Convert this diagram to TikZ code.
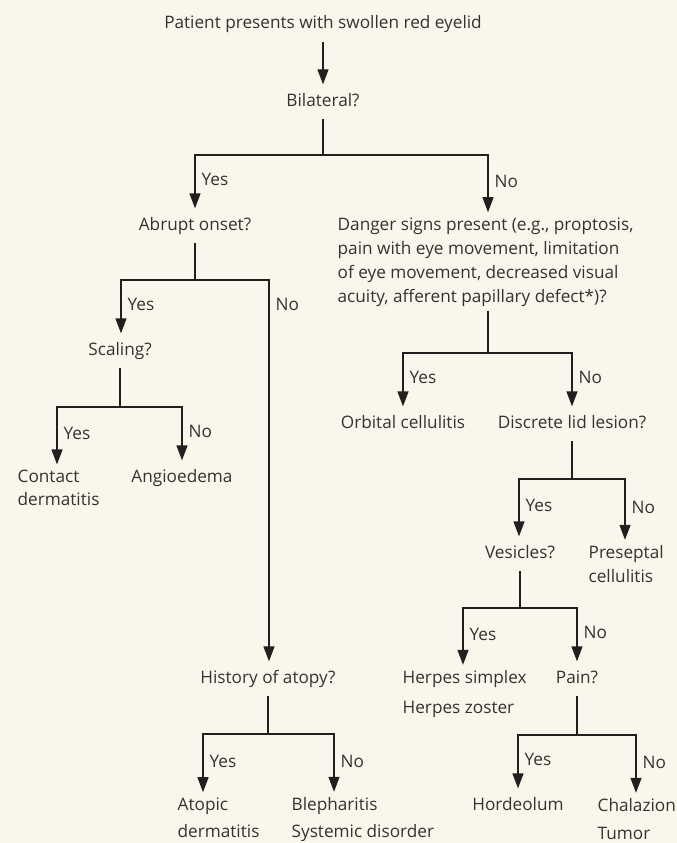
\documentclass[tikz,border=0pt]{standalone}
\usepackage{fontspec}
\setmainfont{Open Sans}
\usetikzlibrary{arrows.meta}
\definecolor{cream}{HTML}{FAF6EB}
\definecolor{ink}{HTML}{231F20}
\definecolor{txt}{HTML}{333333}

\begin{document}
\begin{tikzpicture}[x=1pt,y=-1pt,line width=1.3pt,draw=ink,
    >={Triangle[length=15pt,width=11pt]},
    base/.style={text=txt,font=\fontsize{17.2}{24}\selectfont,inner xsep=1pt,inner ysep=8.5pt},
    q/.style={base,anchor=base,text height=12.5pt,text depth=4pt},
    ml/.style={base,anchor=base west,align=left,inner ysep=4.5pt},
    yn/.style={base,midway,anchor=west,inner xsep=6pt,inner ysep=0pt,text height=12.5pt,text depth=4pt}]
    % background and size
    \fill [cream] (0, 0) rectangle (677, 843);
    \useasboundingbox (0, 0) rectangle (677, 843);
    % questions and outcomes (multi-line ones sit on their last line)
    \node [q] (patient) at (323, 29) {Patient presents with swollen red eyelid};%
    \node [q] (bilat) at (323, 106) {Bilateral?};%
    \node [q] (abrupt) at (195, 230) {Abrupt onset?};%
    \node [ml] (danger) at (336, 302) {Danger signs present (e.g., proptosis,\\pain with eye movement, limitation\\of eye movement, decreased visual\\acuity, afferent papillary defect*)?};%
    \node [q] (scaling) at (120, 355) {Scaling?};%
    \node [q] (orbital) at (403, 428) {Orbital cellulitis};%
    \node [q] (discrete) at (572, 428) {Discrete lid lesion?};%
    \node [ml] (contact) at (16, 505) {Contact\\[-1pt]dermatitis};%
    \node [q] (angio) at (182, 482) {Angioedema};%
    \node [q] (vesicles) at (520, 558) {Vesicles?};%
    \node [ml] (presep) at (587, 582) {Preseptal\\cellulitis};%
    \node [q] (history) at (268, 683) {History of atopy?};%
    \node [ml] (herpes) at (401, 713) {Herpes simplex\\[6pt]Herpes zoster};%
    \node [q] (pain) at (577, 683) {Pain?};%
    \node [ml] (atopic) at (176, 837) {Atopic\\[3pt]dermatitis};%
    \node [ml] (bleph) at (290, 837) {Blepharitis\\[3pt]Systemic disorder};%
    \node [q] (hord) at (518, 810) {Hordeolum};%
    \node [ml] (chal) at (596, 839) {Chalazion\\[4pt]Tumor};%
    % split points
    \coordinate (s1) at (323, 155); \coordinate (s1l) at (195, 155); \coordinate (s1r) at (488, 155);
    \coordinate (s2) at (195, 280); \coordinate (s2l) at (121, 280); \coordinate (s2r) at (269, 280);
    \coordinate (s3) at (488, 353); \coordinate (s3l) at (403, 353); \coordinate (s3r) at (572, 353);
    \coordinate (s4) at (120, 407); \coordinate (s4l) at (57, 407); \coordinate (s4r) at (182, 407);
    \coordinate (s5) at (572, 479); \coordinate (s5l) at (519, 479); \coordinate (s5r) at (625, 479);
    \coordinate (s6) at (520, 608); \coordinate (s6l) at (463, 608); \coordinate (s6r) at (577, 608);
    \coordinate (s7) at (268, 734); \coordinate (s7l) at (203, 734); \coordinate (s7r) at (334, 734);
    \coordinate (s8) at (577, 735); \coordinate (s8l) at (518, 735); \coordinate (s8r) at (636, 735);
    % connectors
    \draw [->] (patient) to (bilat);
    \draw (bilat) to (s1);
    \draw [<->] (s1l |- abrupt.north) -- node [yn] {Yes} (s1l) -- (s1r) -- node [yn] {No} (s1r |- danger.north);
    \draw (abrupt) to (s2);
    \draw [<->] (s2l |- scaling.north) -- node [yn] {Yes} (s2l) -- (s2r) -- node [yn, pos=0.07] {No} (s2r |- history.north);
    \draw (s3 |- danger.south) to (s3);
    \draw [<->] (s3l |- orbital.north) -- node [yn] {Yes} (s3l) -- (s3r) -- node [yn] {No} (s3r |- discrete.north);
    \draw (scaling) to (s4);
    \draw [<->] (s4l |- contact.north) -- node [yn] {Yes} (s4l) -- (s4r) -- node [yn] {No} (s4r |- angio.north);
    \draw (discrete) to (s5);
    \draw [<->] (s5l |- vesicles.north) -- node [yn] {Yes} (s5l) -- (s5r) -- node [yn] {No} (s5r |- presep.north);
    \draw (vesicles) to (s6);
    \draw [<->] (s6l |- herpes.north) -- node [yn] {Yes} (s6l) -- (s6r) -- node [yn] {No} (s6r |- pain.north);
    \draw (history) to (s7);
    \draw [<->] (s7l |- atopic.north) -- node [yn] {Yes} (s7l) -- (s7r) -- node [yn] {No} (s7r |- bleph.north);
    \draw (pain) to (s8);
    \draw [<->] (s8l |- hord.north) -- node [yn] {Yes} (s8l) -- (s8r) -- node [yn] {No} (s8r |- chal.north);
\end{tikzpicture}
\end{document}
